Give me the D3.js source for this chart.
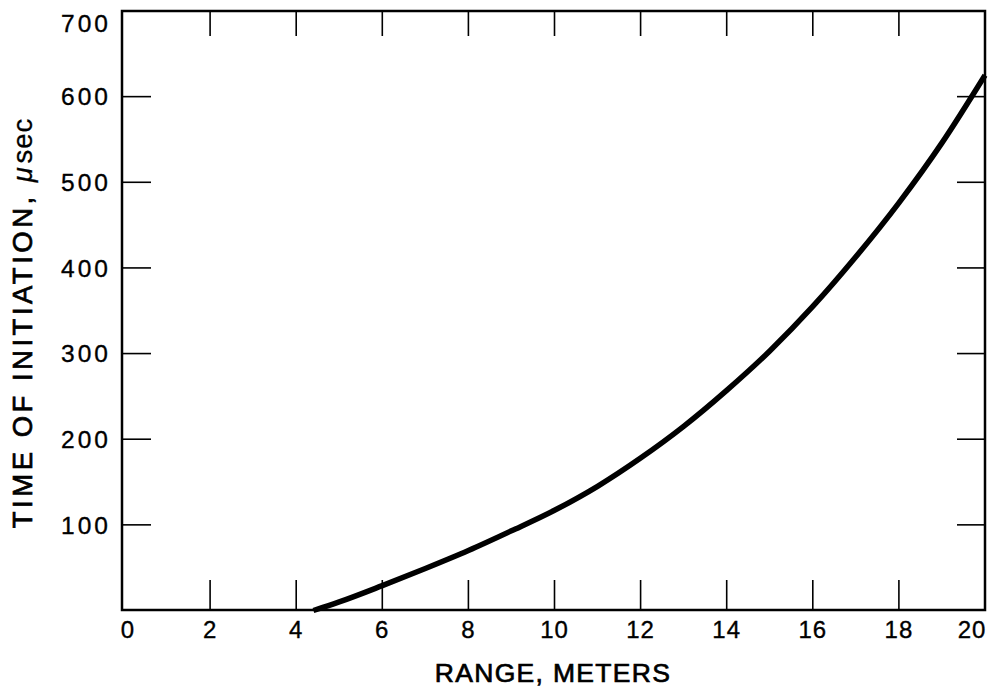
<!DOCTYPE html>
<html><head><meta charset="utf-8">
<script src="https://cdn.jsdelivr.net/npm/d3@7"></script>
<style>
body{margin:0;background:#fff;}
text{font-family:"Liberation Sans",Arial,Helvetica,sans-serif;fill:#000;}
</style></head>
<body>
<svg id="chart" width="993" height="695"></svg>
<script>
const rangeM = [4.4, 5, 6, 7, 8, 9, 10, 11, 12, 13, 14, 15, 16, 17, 18, 19, 20];
const timeUs = [0, 10, 29, 49, 70, 93, 117, 145, 178, 215, 257, 303, 355, 413, 476, 546, 625];
const xTicks = [0, 2, 4, 6, 8, 10, 12, 14, 16, 18, 20];
const yTicks = [100, 200, 300, 400, 500, 600, 700];
const xTitle = "RANGE, METERS";
const yTitle = "TIME OF INITIATION, ";

const svg = d3.select("#chart");
const x = d3.scaleLinear().domain([0, 20]).range([124, 985]);
const y = d3.scaleLinear().domain([0, 700]).range([610.5, 11]);
const L = 122, R = 985, T = 11, B = 610;

// inner ticks
const inner = xTicks.filter(d => d > 0 && d < 20);
const innerY = yTicks.filter(d => d < 700);
const g = svg.append("g").attr("stroke", "#000").attr("stroke-width", 1.6);
g.selectAll(".bt").data(inner).join("line")
  .attr("x1", d => x(d)).attr("x2", d => x(d)).attr("y1", B).attr("y2", B - 30);
g.selectAll(".tt").data(inner).join("line")
  .attr("x1", d => x(d)).attr("x2", d => x(d)).attr("y1", T).attr("y2", T + 25);
g.selectAll(".lt").data(innerY).join("line")
  .attr("x1", L).attr("x2", L + 29).attr("y1", d => y(d)).attr("y2", d => y(d));
g.selectAll(".rt").data(innerY).join("line")
  .attr("x1", R).attr("x2", R - 28).attr("y1", d => y(d)).attr("y2", d => y(d));

// frame
svg.append("rect").attr("x", L).attr("y", T).attr("width", R - L).attr("height", B - T)
  .attr("fill", "none").attr("stroke", "#000").attr("stroke-width", 2.5);

// curve
const line = d3.line().x((d, i) => x(rangeM[i])).y(d => y(d)).curve(d3.curveMonotoneX);
svg.append("path").attr("d", line(timeUs)).attr("fill", "none")
  .attr("stroke", "#000").attr("stroke-width", 5.5).attr("stroke-linecap", "butt");

// y tick labels
svg.selectAll(".yl").data(yTicks).join("text")
  .attr("x", 111).attr("y", d => d === 700 ? y(d) + 12 : y(d))
  .attr("dy", "0.36em").attr("text-anchor", "end")
  .attr("font-size", 24.5).attr("letter-spacing", 3)
  .attr("stroke", "#000").attr("stroke-width", 0.35)
  .text(d => d);

// x tick labels
svg.selectAll(".xl").data(xTicks).join("text")
  .attr("x", d => d === 20 ? x(d) - 13 : (d === 0 ? x(d) + 4 : x(d)))
  .attr("y", 638).attr("text-anchor", "middle")
  .attr("font-size", 24).attr("letter-spacing", 1)
  .attr("stroke", "#000").attr("stroke-width", 0.35)
  .text(d => d);

// x title
svg.append("text").attr("x", 553).attr("y", 682).attr("text-anchor", "middle")
  .attr("font-size", 26.5).attr("letter-spacing", 1.3)
  .attr("stroke", "#000").attr("stroke-width", 0.7)
  .text(xTitle);

// y title
const yt = svg.append("text").attr("transform", "translate(32,323) rotate(-90)")
  .attr("text-anchor", "middle").attr("font-size", 27.5).attr("letter-spacing", 3.5)
  .attr("stroke", "#000").attr("stroke-width", 0.7);
yt.append("tspan").text(yTitle);
yt.append("tspan").attr("font-style", "italic").attr("stroke-width", 0.3).text("\u03bc");
yt.append("tspan").attr("stroke-width", 0.3).attr("letter-spacing", 1).text("sec");
</script>
</body></html>
